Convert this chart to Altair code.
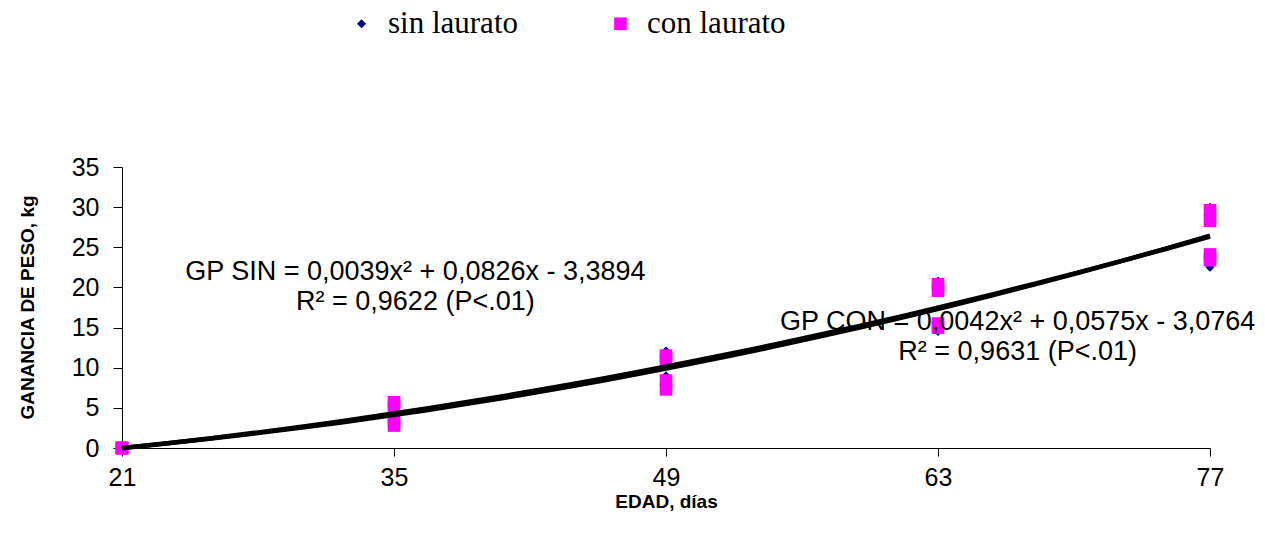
import altair as alt
import pandas as pd

# ---- data ----
edad = [21, 35, 49, 63, 77]
sin_laurato = [
    [0, 0, 0, 0],
    [5.4, 4.8, 3.8, 3.0],
    [12.1, 11.2, 9.0, 8.0],
    [20.8, 20.0, 15.2, 14.5],
    [30.0, 28.8, 23.8, 22.5],
]
con_laurato = [
    [0, 0, 0, 0],
    [5.7, 5.0, 3.5, 2.8],
    [11.5, 11.0, 8.4, 7.3],
    [20.4, 19.6, 15.5, 15.0],
    [29.6, 28.3, 24.1, 23.4],
]
series = ["sin laurato", "con laurato"]
y_ticks = [0, 5, 10, 15, 20, 25, 30, 35]

ann_text = [
    "GP SIN = 0,0039x² + 0,0826x - 3,3894",
    "R² = 0,9622 (P<.01)",
    "GP CON = 0,0042x² + 0,0575x - 3,0764",
    "R² = 0,9631 (P<.01)",
]
ann_edad = [36.1, 36.1, 67.1, 67.1]
ann_gp = [21.9, 18.2, 15.7, 12.0]

rows = []
for name, vals in zip(series, [sin_laurato, con_laurato]):
    for d, vs in zip(edad, vals):
        for v in vs:
            rows.append({"edad": d, "ganancia": v, "serie": name})
df = pd.DataFrame(rows)
ann = pd.DataFrame({"text": ann_text, "edad": ann_edad, "ganancia": ann_gp})

FONT = "Liberation Sans"

xscale = alt.Scale(domain=[21, 77], nice=False, zero=False)
yscale = alt.Scale(domain=[0, 35], nice=False)

xenc = alt.X(
    "edad:Q",
    scale=xscale,
    axis=alt.Axis(
        values=edad, grid=False, title="EDAD, días", labelFont=FONT,
        labelFontSize=25, labelColor="black", labelPadding=9, tickSize=8,
        labelFlush=False,
        tickColor="black", domainColor="black", titleFont=FONT,
        titleFontSize=19, titleFontWeight="bold", titleColor="black",
        titleBaseline="alphabetic", titleY=59, titleX=544,
    ),
)
yenc = alt.Y(
    "ganancia:Q",
    scale=yscale,
    axis=alt.Axis(
        values=y_ticks, grid=False, title="GANANCIA DE PESO, kg",
        labelFont=FONT, labelFontSize=25, labelColor="black",
        labelPadding=14, tickSize=9, tickColor="black", domainColor="black",
        labelFlush=False,
        titleFont=FONT, titleFontSize=19, titleFontWeight="bold",
        titleColor="black", titleAngle=270, titleBaseline="middle",
        titleAlign="center", titleX=-95, titleY=140,
    ),
)

base = alt.Chart(df)

points = base.mark_point(filled=True, opacity=1, strokeWidth=0).encode(
    x=xenc,
    y=yenc,
    color=alt.Color(
        "serie:N",
        scale=alt.Scale(domain=series, range=["#000080", "#FF00FF"]),
        legend=alt.Legend(title=None),
    ),
    shape=alt.Shape(
        "serie:N",
        scale=alt.Scale(domain=series, range=["diamond", "square"]),
        legend=alt.Legend(title=None),
    ),
    size=alt.Size(
        "serie:N",
        scale=alt.Scale(domain=series, range=[80, 160]),
        legend=alt.Legend(title=None),
    ),
)

text = alt.Chart(ann).mark_text(
    font=FONT, fontSize=27, color="black", align="center", baseline="middle"
).encode(x=alt.X("edad:Q", scale=xscale), y=alt.Y("ganancia:Q", scale=yscale), text="text:N")

lines = base.transform_regression(
    "edad", "ganancia", method="poly", order=2, groupby=["serie"], extent=[21, 77]
).mark_line(color="black", strokeWidth=4.5, strokeCap="butt").encode(
    x=alt.X("edad:Q", scale=xscale),
    y=alt.Y("ganancia:Q", scale=yscale),
    detail="serie:N",
)

chart = alt.layer(points, text, lines).properties(
    width=1088,
    height=281,
    padding={"left": 122, "top": 167, "right": 55, "bottom": 94},
    autosize="none",
).configure_view(stroke=None).configure_legend(
    orient="none",
    direction="horizontal",
    legendX=224,
    legendY=-159,
    padding=0,
    labelFont="Liberation Serif",
    labelFontSize=31,
    labelColor="black",
    labelOffset=11,
    columnPadding=87,
    symbolStrokeWidth=0,
    symbolOpacity=1,
)

chart.save("out.html", embed_options={"renderer": "svg", "actions": False})
